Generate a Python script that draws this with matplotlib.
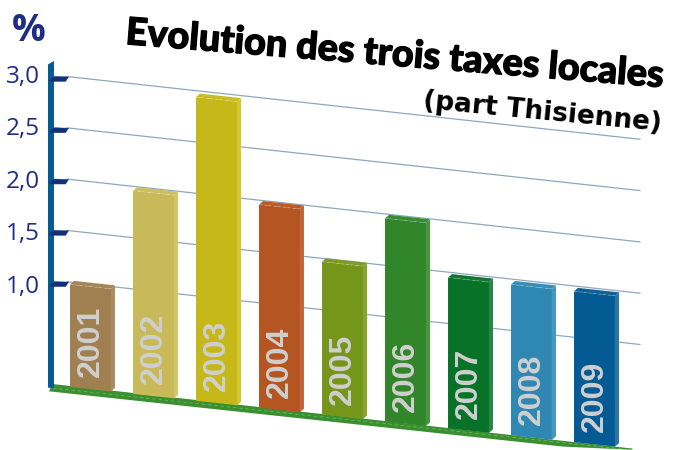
import matplotlib
matplotlib.use('Agg')
import matplotlib.pyplot as plt
import matplotlib.patheffects as pe
from matplotlib.patches import Polygon
from matplotlib.transforms import Affine2D

# Values
years = ['2001', '2002', '2003', '2004', '2005', '2006', '2007', '2008', '2009']
values = [1.0, 1.98, 2.96, 1.98, 1.49, 1.98, 1.47, 1.47, 1.47]
colors = ['#a07f50', '#c8ba58', '#c6b818', '#b45522', '#76961a',
          '#31862a', '#077228', '#2f88b4', '#045a92']
side_colors = ['#ab8c60', '#d2c668', '#d4c72e', '#c0663a', '#86a52e',
               '#46963e', '#2a8446', '#4597c0', '#2a74a6']
top_colors = ['#a58557', '#ccbf60', '#cabd24', '#b95c2a', '#7c9c24',
              '#388c32', '#107832', '#378eb8', '#106296']
tick_values = [1.0, 1.5, 2.0, 2.5, 3.0]
tick_labels = ['1,0', '1,5', '2,0', '2,5', '3,0']

BLUE = '#1f2d84'
AXIS_BLUE = '#045a92'
GREEN = '#3a8f2e'
BAR_W = 0.65
DX, DV = 0.0635, 0.038   # depth of the fake 3D

fig = plt.figure(figsize=(6.76, 4.5), dpi=100)
ax = fig.add_axes([0, 0, 1, 1])
ax.set_xlim(0, 676)
ax.set_ylim(450, 0)
ax.axis('off')

# sheared scale: (bar index, value) -> picture position
proj = Affine2D.from_values(63, 6.9, 0, -102.6, 90.5, 389.2)
to_ax = proj + ax.transData
grid_tr = proj + Affine2D().translate(0, -2.3) + ax.transData
label_tr = Affine2D.from_values(63, 6.9, 0, -105, 90.5, 399.2) + ax.transData

# grid lines
for v in tick_values:
    ax.plot([-0.373, 8.72], [v, v], color='#8fa8bc', lw=0.9, transform=grid_tr, zorder=1)

# floor
ax.add_patch(Polygon([(-0.6, 0.01), (8.6, 0), (8.6, -0.012), (7.5, -0.055), (-0.66, -0.065)],
                     closed=True, fc=GREEN, ec='none', transform=to_ax, zorder=2))
ax.plot([-0.6, 8.5], [-0.03, -0.015], color='#cfe3c8', lw=0.5, ls=(0, (5, 4)),
        alpha=0.45, transform=to_ax, zorder=2.1)

# vertical axis
ax.add_patch(Polygon([(-0.675, -0.03), (-0.58, -0.03), (-0.58, 3.16), (-0.675, 3.12)],
                     closed=True, fc=AXIS_BLUE, ec='none', transform=to_ax, zorder=3))

# tick markers
marker = [(-5, 1.5), (0, -2.5), (14, -2), (11, 2.5), (-3, 2.5)]
for v in tick_values:
    px, py = proj.transform((-0.65, v))
    ax.add_patch(Polygon(marker, closed=True, fc='#12307a', ec='#12307a', lw=0.3,
                         transform=Affine2D().translate(px + 5, py + 2) + ax.transData,
                         zorder=4))

# bars
for i, (year, v) in enumerate(zip(years, values)):
    l, r = i - BAR_W / 2, i + BAR_W / 2
    ax.add_patch(Polygon([(r, 0), (r + DX, DV), (r + DX, v + DV), (r, v)], closed=True,
                         fc=side_colors[i], ec='none', transform=to_ax, zorder=5))
    ax.add_patch(Polygon([(l, v), (r, v), (r + DX, v + DV), (l + DX, v + DV)], closed=True,
                         fc=top_colors[i], ec='none', transform=to_ax, zorder=5))
    ax.bar(i, v, width=BAR_W, color=colors[i], transform=to_ax, zorder=6)
    ax.plot([l, r], [v, v], color='white', lw=0.5, ls=(0, (4, 3)), alpha=0.3,
            transform=to_ax, zorder=7)
    ax.text(i, 0.465, year, transform=to_ax, rotation=90, ha='center', va='center',
            family='Liberation Sans', weight='bold', fontsize=23, color='#cfcfcf',
            zorder=8)
# bar() pulled the limits around, put them back
ax.set_xlim(0, 676)
ax.set_ylim(450, 0)

# tick labels
for v, lab in zip(tick_values, tick_labels):
    ax.text(-1.07, v, lab, transform=label_tr, ha='center', va='center',
            family='Open Sans', fontsize=17.5, color=BLUE, zorder=8)

ax.text(29, 31, '%', ha='center', va='center', family='Open Sans', weight='bold',
        fontsize=27, color=BLUE)

title = ax.text(125, 44, 'Evolution des trois taxes locales', ha='left', va='baseline',
                rotation=-4.6, rotation_mode='anchor', family='Lato', weight='black',
                fontsize=27.2, color='black')
title.set_path_effects([pe.withStroke(linewidth=0.9, foreground='black')])
ax.text(423, 108, '(part Thisienne)', ha='left', va='baseline',
        rotation=-5.5, rotation_mode='anchor', family='DejaVu Sans', weight='bold',
        fontsize=19, color='black')

fig.savefig('out.png', dpi=100)
